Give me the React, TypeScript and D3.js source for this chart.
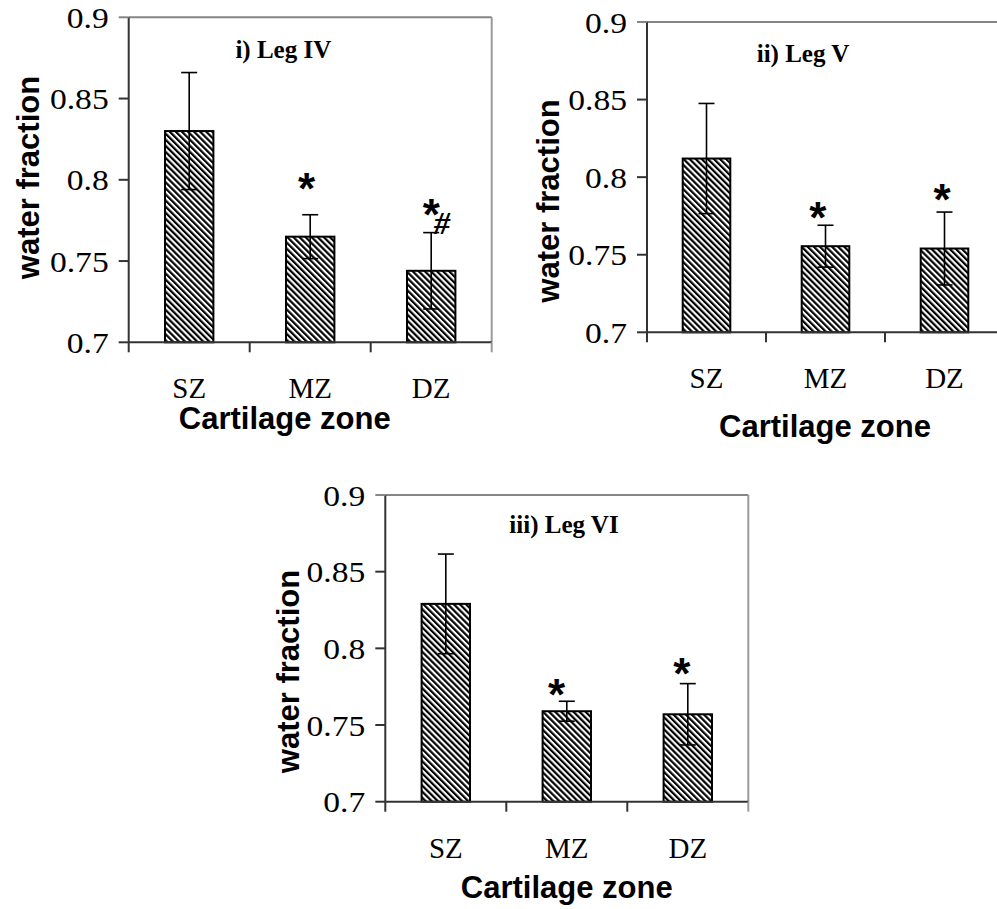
import React from "react";
import * as d3 from "d3";

const categories = ["SZ", "MZ", "DZ"];
const yTicks = [0.7, 0.75, 0.8, 0.85, 0.9];

const legIVMeans = [0.83, 0.765, 0.744];
const legIVErrors = [0.036, 0.0135, 0.0235];
const legVMeans = [0.812, 0.7555, 0.754];
const legVErrors = [0.0355, 0.0135, 0.0235];
const legVIMeans = [0.829, 0.759, 0.757];
const legVIErrors = [0.0325, 0.0065, 0.02];

// significance marks: category, symbol, value position, band-relative offset
const legIVMarks = [
  { cat: "MZ", sym: "*", value: 0.7986, off: -0.03 },
  { cat: "DZ", sym: "*", value: 0.7827, off: 0.0 },
  { cat: "DZ", sym: "#", value: 0.7735, off: 0.09 },
];
const legVMarks = [
  { cat: "MZ", sym: "*", value: 0.7782, off: -0.065 },
  { cat: "DZ", sym: "*", value: 0.7896, off: -0.02 },
];
const legVIMarks = [
  { cat: "MZ", sym: "*", value: 0.774, off: -0.085 },
  { cat: "DZ", sym: "*", value: 0.788, off: -0.05 },
];

const panels = [
  { title: "i) Leg IV", means: legIVMeans, errs: legIVErrors, marks: legIVMarks,
    left: 128.7, top: 17.3, width: 363, height: 325, titleX: 283.3, titleY: 58, ylabY: 177.5, ylabX: 39, xlabX: 284.7, xlabY: 429 },
  { title: "ii) Leg V", means: legVMeans, errs: legVErrors, marks: legVMarks,
    left: 647, top: 22, width: 357, height: 310.3, titleX: 803, titleY: 61.7, ylabY: 201, ylabX: 559, xlabX: 825, xlabY: 437 },
  { title: "iii) Leg VI", means: legVIMeans, errs: legVIErrors, marks: legVIMarks,
    left: 385.3, top: 495, width: 363, height: 306.7, titleX: 564, titleY: 532.7, ylabY: 671.5, ylabX: 299, xlabX: 566.7, xlabY: 898 },
];

const SERIF = "'Liberation Serif', 'Times New Roman', serif";
const SANS = "'Liberation Sans', Arial, sans-serif";

function Panel({ p }: { p: any }) {
  const x = d3.scaleBand<string>().domain(categories).range([p.left, p.left + p.width]).paddingInner(0.6).paddingOuter(0.3);
  const y = d3.scaleLinear().domain([0.7, 0.9]).range([p.top + p.height, p.top]);
  const step = x.step();
  const bottom = y(0.7);
  const right = p.left + p.width;
  const capW = 8;
  const xBounds = d3.range(categories.length + 1).map((i) => p.left + i * step);
  return (
    <g>
      {/* frame: top and right */}
      <line x1={p.left} x2={right} y1={y(0.9)} y2={y(0.9)} stroke="#858585" strokeWidth={2} />
      <line x1={right} x2={right} y1={y(0.9)} y2={bottom} stroke="#9a9a9a" strokeWidth={2} />
      {/* bars */}
      {categories.map((c, i) => (
        <rect key={c} x={x(c)} y={y(p.means[i])} width={x.bandwidth()} height={bottom - y(p.means[i])}
          fill={`url(#hatch)`} stroke="#000" strokeWidth={2} />
      ))}
      {/* error bars */}
      {categories.map((c, i) => {
        const cx = (x(c) as number) + x.bandwidth() / 2;
        const hi = y(p.means[i] + p.errs[i]);
        const lo = y(p.means[i] - p.errs[i]);
        return (
          <g key={"e" + c} stroke="#000" strokeWidth={1.6}>
            <line x1={cx} x2={cx} y1={hi} y2={lo} />
            <line x1={cx - capW} x2={cx + capW} y1={hi} y2={hi} />
            <line x1={cx - capW} x2={cx + capW} y1={lo} y2={lo} />
          </g>
        );
      })}
      {/* y axis */}
      <line x1={p.left} x2={p.left} y1={y(0.9)} y2={bottom} stroke="#333" strokeWidth={2} />
      {yTicks.map((t) => (
        <g key={t}>
          <line x1={p.left - 10} x2={p.left} y1={y(t)} y2={y(t)} stroke={t === 0.9 ? "#858585" : "#333"} strokeWidth={2} />
          <text transform={`translate(${p.left - 20},${y(t) + 10.5}) scale(1.12,1)`} textAnchor="end"
            style={{ fontFamily: "'Liberation Serif'", fontSize: "30px" }}>
            {String(t)}
          </text>
        </g>
      ))}
      {/* x axis */}
      <line x1={p.left} x2={right} y1={bottom} y2={bottom} stroke="#333" strokeWidth={2} />
      {xBounds.map((bx, i) => (
        <line key={i} x1={bx} x2={bx} y1={bottom} y2={bottom + 10} stroke={i === xBounds.length - 1 ? "#9a9a9a" : "#333"} strokeWidth={2} />
      ))}
      {categories.map((c) => (
        <text key={"l" + c} x={(x(c) as number) + x.bandwidth() / 2} y={bottom + 56} textAnchor="middle" fontFamily={SERIF} fontSize={29}>
          {c}
        </text>
      ))}
      {/* significance marks */}
      {p.marks.map((m: any, k: number) => {
        const cx = (x(m.cat) as number) + x.bandwidth() / 2 + m.off * step;
        const cy = y(m.value);
        if (m.sym === "*") {
          return (
            <text key={"m" + k} x={cx} y={cy + 0.5 * 44} textAnchor="middle" fontFamily={SANS} fontWeight="bold" fontSize={44}>
              *
            </text>
          );
        }
        return (
          <text key={"m" + k} x={cx} y={cy + 0.34 * 32} textAnchor="middle" fontFamily={SERIF} fontWeight="bold" fontStyle="italic" fontSize={32}>
            {m.sym}
          </text>
        );
      })}
      {/* title */}
      <text x={p.titleX} y={p.titleY} textAnchor="middle" fontFamily={SERIF} fontWeight="bold" fontSize={25}>
        {p.title}
      </text>
      {/* axis titles */}
      <text x={p.xlabX} y={p.xlabY} textAnchor="middle" fontFamily={SANS} fontWeight="bold" fontSize={31}>
        Cartilage zone
      </text>
      <text transform={`translate(${p.ylabX},${p.ylabY}) rotate(-90)`} textAnchor="middle" fontFamily={SANS} fontWeight="bold" fontSize={31}>
        water fraction
      </text>
    </g>
  );
}

export default function App() {
  return (
    <svg width={997} height={909} style={{ position: "absolute", left: 0, top: 0, background: "#fff" }}>
      <defs>
        <pattern id="hatch" patternUnits="userSpaceOnUse" width={4.3} height={4.3} patternTransform="rotate(-45)">
          <rect x={0} y={0} width={4.3} height={4.3} fill="#fff" />
          <rect x={0} y={0} width={2.2} height={4.3} fill="#000" />
        </pattern>
      </defs>
      <rect width={997} height={909} fill="#fff" />
      {panels.map((p, i) => (
        <Panel key={i} p={p} />
      ))}
    </svg>
  );
}
